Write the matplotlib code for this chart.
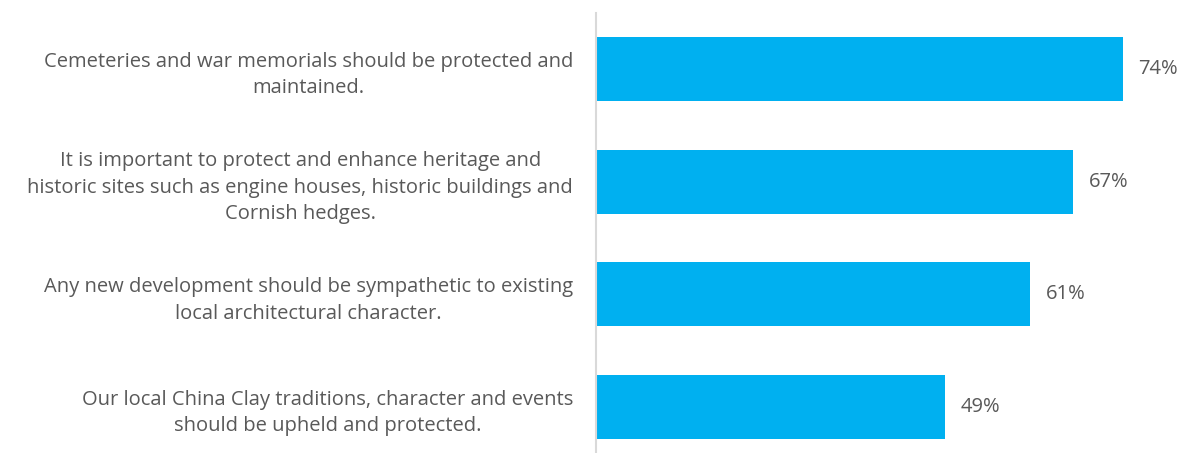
import matplotlib
matplotlib.use("Agg")
import matplotlib.pyplot as plt

categories = [
    "Cemeteries and war memorials should be protected and\nmaintained.",
    "It is important to protect and enhance heritage and\nhistoric sites such as engine houses, historic buildings and\nCornish hedges.",
    "Any new development should be sympathetic to existing\nlocal architectural character.",
    "Our local China Clay traditions, character and events\nshould be upheld and protected.",
]
values = [74, 67, 61, 49]
value_labels = ["74%", "67%", "61%", "49%"]

plt.rcParams['font.family'] = ['Open Sans', 'DejaVu Sans']
text_color = "#595959"

fig = plt.figure(figsize=(11.92, 4.53), dpi=100)
ax = fig.add_axes([0.5, -0.023, 0.478, 0.995])
pos = list(range(len(categories)))
ax.barh(pos, values, height=0.568, color="#00B0F0")
ax.set_ylim(3.5, -0.5)
ax.set_xlim(0, 80)
for p, v, lab in zip(pos, values, value_labels):
    ax.annotate(lab, (v, p), xytext=(11, 0), textcoords="offset points",
                ha="left", va="center", fontsize=14.5, color=text_color)
ax.set_yticks(pos)
ax.set_yticklabels(categories, fontsize=14.5, color=text_color,
                   multialignment="center", linespacing=1.45)
ax.tick_params(axis="y", length=0, pad=16.5)
ax.set_xticks([])
for s in ["top", "right", "bottom"]:
    ax.spines[s].set_visible(False)
ax.spines["left"].set_color("#D9D9D9")
ax.spines["left"].set_linewidth(1.5)
fig.savefig("out.png", dpi=100)
